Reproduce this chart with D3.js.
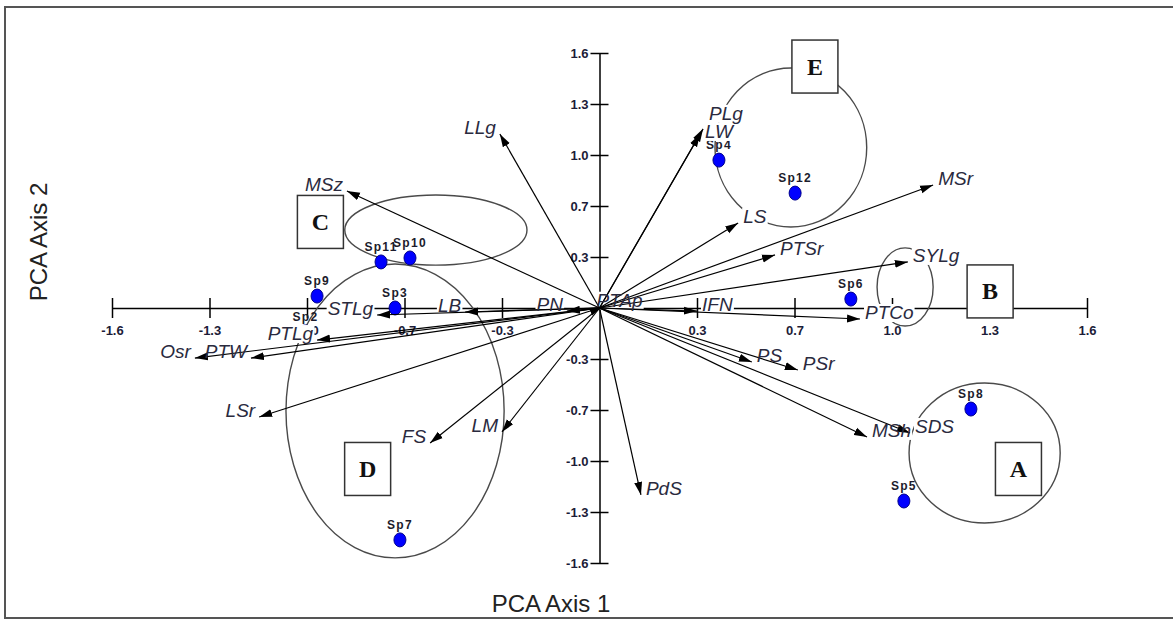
<!DOCTYPE html>
<html>
<head>
<meta charset="utf-8">
<script src="https://d3js.org/d3.v7.min.js"></script>
<style>
    body { margin: 0; background: #fff; }
    .tick text { font-family: "Liberation Sans", Arial, sans-serif; font-weight: bold; font-size: 13px; fill: #1c1c38; }
    .varlabel { font-family: "Liberation Sans", Arial, sans-serif; font-style: italic; font-size: 19px; fill: #2a2a3e; }
    .splabel { font-family: "Liberation Sans", Arial, sans-serif; font-weight: bold; font-size: 12px; letter-spacing: 1.3px; fill: #1c1c2c; }
    .boxletter { font-family: "Liberation Serif", "Times New Roman", serif; font-weight: bold; font-size: 24px; fill: #111; }
    .axistitle { font-family: "Liberation Sans", Arial, sans-serif; font-size: 24px; fill: #222; }
</style>
</head>
<body>
<script>
// axis ticks (evenly spaced, labels as printed)
const tickValues = [-1.6, -1.28, -0.96, -0.64, -0.32, 0.32, 0.64, 0.96, 1.28, 1.6];
const tickLabels = ["-1.6", "-1.3", "-1.0", "-0.7", "-0.3", "0.3", "0.7", "1.0", "1.3", "1.6"];

// species scores
const speciesNames = ["Sp4", "Sp12", "Sp6", "Sp8", "Sp5", "Sp7", "Sp11", "Sp10", "Sp9", "Sp3", "Sp2"];
const speciesX = [0.392, 0.642, 0.825, 1.219, 0.999, -0.655, -0.717, -0.622, -0.927, -0.671, -0.965];
const speciesY = [0.928, 0.721, 0.056, -0.634, -1.211, -1.455, 0.289, 0.314, 0.075, 0.0, -0.150];

// variable loadings (biplot vectors)
const varNames = ["MSz", "LLg", "PLg", "LW", "LS", "MSr", "PTSr", "SYLg", "IFN", "PTCo", "PS", "PSr",
    "MSh", "SDS", "PdS", "LM", "FS", "LSr", "Osr", "PTW", "PTLg", "STLg", "LB", "PN", "PTAp"];
const varX = [-0.829, -0.327, 0.340, 0.330, 0.455, 1.095, 0.576, 1.012, 0.320, 0.855, 0.500, 0.651,
    0.878, 1.019, 0.136, -0.320, -0.556, -1.117, -1.328, -1.144, -0.927, -0.730, -0.441, -0.107, 0.010];
const varY = [0.734, 1.092, 1.124, 1.092, 0.533, 0.772, 0.333, 0.289, -0.019, -0.069, -0.339, -0.389,
    -0.809, -0.784, -1.173, -0.778, -0.847, -0.684, -0.314, -0.314, -0.201, -0.044, -0.025, -0.019, 0.008];

// groups: ellipse (centre, radii) and letter box position, data units
const groupNames = ["E", "C", "B", "D", "A"];
const groupCx = [0.628, -0.537, 1.003, -0.671, 1.264];
const groupCy = [1.007, 0.489, 0.132, -0.646, -0.910];
const groupRx = [0.249, 0.299, 0.092, 0.358, 0.248];
const groupRy = [0.499, 0.220, 0.245, 0.922, 0.439];
const boxX = [0.707, -0.916, 1.282, -0.761, 1.375];
const boxY = [1.515, 0.540, 0.104, -1.010, -1.010];

// small hand nudges for crowded labels (pixels)
const nudge = { PLg: [1, -9], LW: [0, 4], PTAp: [-11, 0] };

const W = 1173, H = 621;
const svg = d3.select("body").append("svg").attr("width", W).attr("height", H);

const x = d3.scaleLinear().domain([-1.6, 1.6]).range([112, 1087]);
const y = d3.scaleLinear().domain([-1.6, 1.6]).range([563, 53]);

svg.append("defs").append("marker")
    .attr("id", "head")
    .attr("viewBox", "0 -4.5 13 9")
    .attr("refX", 13).attr("refY", 0)
    .attr("markerWidth", 13).attr("markerHeight", 9)
    .attr("markerUnits", "userSpaceOnUse")
    .attr("orient", "auto")
    .append("path").attr("d", "M0,-4L13,0L0,4Z").attr("fill", "#000");

// frame
svg.append("rect")
    .attr("x", 5).attr("y", 7).attr("width", 1185).attr("height", 611)
    .attr("fill", "none").attr("stroke", "#555").attr("stroke-width", 2);

// x axis
const gx = svg.append("g")
    .attr("transform", "translate(0," + y(0) + ")")
    .call(d3.axisBottom(x).tickValues(tickValues)
        .tickFormat((d, i) => tickLabels[i])
        .tickSize(10).tickSizeOuter(0).tickPadding(8));
gx.selectAll(".tick line").attr("y1", -10).attr("y2", 10).attr("stroke-width", 1.5);
gx.select(".domain").attr("stroke-width", 1.5);

// y axis
const gy = svg.append("g")
    .attr("transform", "translate(" + x(0) + ",0)")
    .call(d3.axisLeft(y).tickValues(tickValues)
        .tickFormat((d, i) => tickLabels[i])
        .tickSize(9).tickSizeOuter(0).tickPadding(2));
gy.selectAll(".tick line").attr("x1", -9).attr("x2", 9).attr("stroke-width", 1.5);
gy.select(".domain").attr("stroke-width", 1.5);

// group ellipses
svg.append("g").selectAll("ellipse")
    .data(groupNames)
    .enter().append("ellipse")
    .attr("cx", (d, i) => x(groupCx[i]))
    .attr("cy", (d, i) => y(groupCy[i]))
    .attr("rx", (d, i) => x(groupRx[i]) - x(0))
    .attr("ry", (d, i) => y(0) - y(groupRy[i]))
    .attr("fill", "none").attr("stroke", "#4a4a4a").attr("stroke-width", 1.4);

// species points
svg.append("g").selectAll("ellipse")
    .data(speciesNames)
    .enter().append("ellipse")
    .attr("cx", (d, i) => x(speciesX[i]))
    .attr("cy", (d, i) => y(speciesY[i]))
    .attr("rx", 6).attr("ry", 7)
    .attr("fill", "#0000ff").attr("stroke", "#00008b").attr("stroke-width", 1);

svg.append("g").selectAll("text")
    .data(speciesNames)
    .enter().append("text")
    .attr("class", "splabel")
    .attr("x", (d, i) => x(speciesX[i]))
    .attr("y", (d, i) => y(speciesY[i]) - 11)
    .attr("text-anchor", "middle")
    .text(d => d);

// vectors: white label backgrounds under the arrows, texts on top
const bgLayer = svg.append("g");
const arrowLayer = svg.append("g");
const textLayer = svg.append("g");

arrowLayer.selectAll("line")
    .data(varNames)
    .enter().append("line")
    .attr("x1", x(0)).attr("y1", y(0))
    .attr("x2", (d, i) => x(varX[i]))
    .attr("y2", (d, i) => y(varY[i]))
    .attr("stroke", "#000").attr("stroke-width", 1.2)
    .attr("marker-end", "url(#head)");

const labels = textLayer.selectAll("text")
    .data(varNames)
    .enter().append("text")
    .attr("class", "varlabel")
    .attr("x", (d, i) => (varX[i] >= 0 ? x(varX[i]) + 5 : x(varX[i]) - 4) + (nudge[d] ? nudge[d][0] : 0))
    .attr("y", (d, i) => y(varY[i]) + (nudge[d] ? nudge[d][1] : 0))
    .attr("text-anchor", (d, i) => varX[i] >= 0 ? "start" : "end")
    .text(d => d);

labels.each(function() {
    const b = this.getBBox();
    bgLayer.append("rect")
        .attr("x", b.x - 1).attr("y", b.y + 2)
        .attr("width", b.width + 2).attr("height", b.height - 3)
        .attr("fill", "#fff");
});

// group letter boxes
const boxes = svg.append("g").selectAll("g")
    .data(groupNames)
    .enter().append("g")
    .attr("transform", (d, i) => "translate(" + x(boxX[i]) + "," + y(boxY[i]) + ")");
boxes.append("rect")
    .attr("x", -23).attr("y", -26.5).attr("width", 46).attr("height", 53)
    .attr("fill", "#fff").attr("stroke", "#333").attr("stroke-width", 1.5);
boxes.append("text")
    .attr("class", "boxletter")
    .attr("text-anchor", "middle")
    .attr("y", 8)
    .text(d => d);

// axis titles
svg.append("text")
    .attr("class", "axistitle")
    .attr("x", 551).attr("y", 612)
    .attr("text-anchor", "middle")
    .text("PCA Axis 1");
svg.append("text")
    .attr("class", "axistitle")
    .attr("transform", "translate(47,242) rotate(-90)")
    .attr("text-anchor", "middle")
    .text("PCA Axis 2");
</script>
</body>
</html>
